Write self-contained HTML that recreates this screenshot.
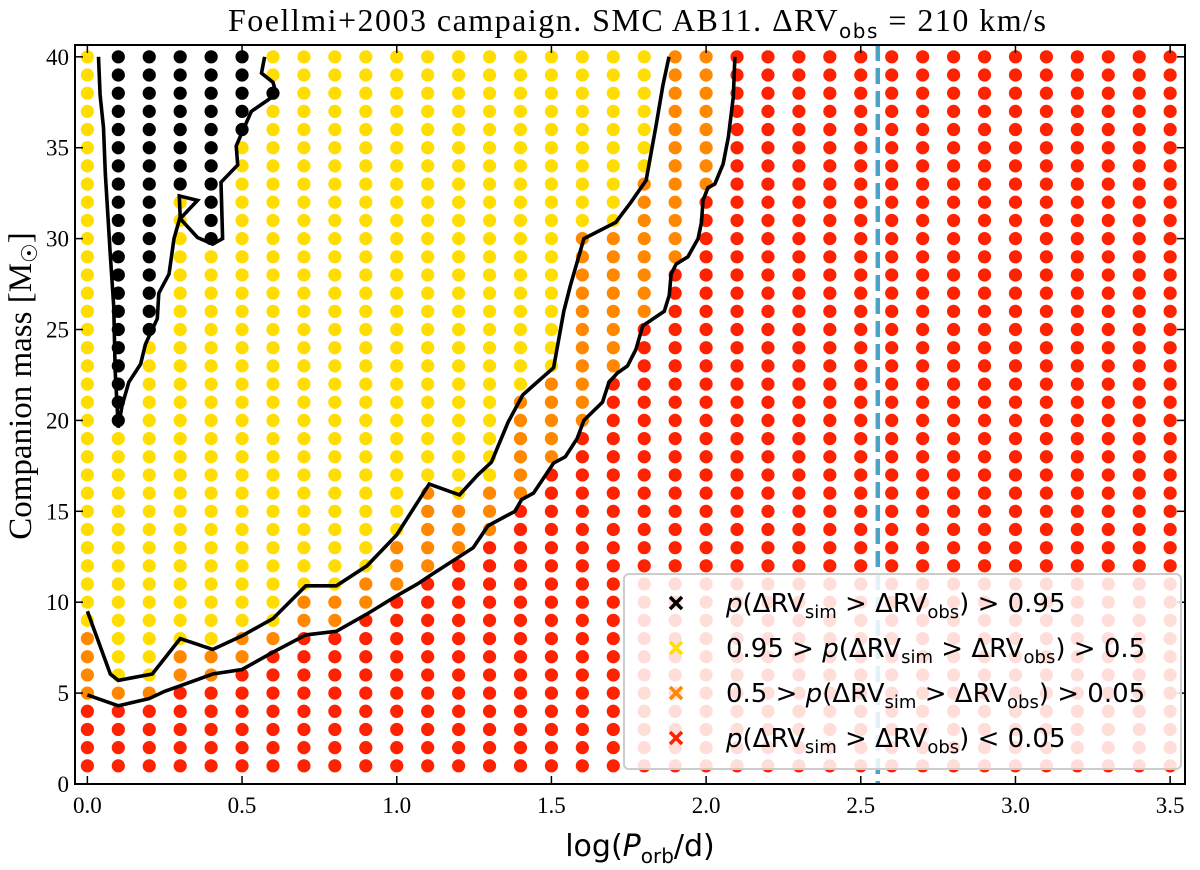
<!DOCTYPE html>
<html><head><meta charset="utf-8"><style>
html,body{margin:0;padding:0;background:#fff;}
svg{display:block;}
.serif{font-family:"Liberation Serif","DejaVu Serif",serif;}
.sans{font-family:"DejaVu Sans","Liberation Sans",sans-serif;}
</style></head><body>
<svg id="chart" width="1200" height="870" viewBox="0 0 1200 870" xmlns="http://www.w3.org/2000/svg">
<text class="serif" x="228" y="31" font-size="32" textLength="818" lengthAdjust="spacing">Foellmi+2003 campaign. SMC AB11. ΔRV<tspan class="sans" font-size="20" dy="7">obs</tspan><tspan dy="-7"> = 210 km/s</tspan></text>
<text class="serif" x="0" y="0" font-size="33" text-anchor="middle" transform="translate(31,386) rotate(-90)">Companion mass [M<tspan font-size="22" dy="6">☉</tspan><tspan dy="-6">]</tspan></text>
<text class="sans" x="640" y="856" font-size="30" text-anchor="middle">log(<tspan font-style="italic">P</tspan><tspan font-size="20" dy="7">orb</tspan><tspan dy="-7">/d)</tspan></text>
<g id="dots"></g>
<g id="lines"></g>
<g id="axes"></g>
<g id="legend"></g>
</svg>
<script>
const xCols = [0.0,0.1,0.2,0.3,0.4,0.5,0.6,0.7,0.8,0.9,1.0,1.1,1.2,1.3,1.4,1.5,1.6,1.7,1.8,1.9,2.0,2.1,2.2,2.3,2.4,2.5,2.6,2.7,2.8,2.9,3.0,3.1,3.2,3.3,3.4,3.5];
const massRows = [1,2,3,4,5,6,7,8,9,10,11,12,13,14,15,16,17,18,19,20,21,22,23,24,25,26,27,28,29,30,31,32,33,34,35,36,37,38,39,40];
const redTop = [4,4,4,5,5,6,7,8,8,9,10,11,12,13,15,17,19,22,25,28,32,40,40,40,40,40,40,40,40,40,40,40,40,40,40,40];
const orangeTop = [8,5,5,7,7,8,8,10,10,11,13,16,15,16,21,22,30,30,33,40,40,40,40,40,40,40,40,40,40,40,40,40,40,40,40,40];
const blackLo = [99,20,25,33,30,36,38,99,99,99,99,99,99,99,99,99,99,99,99,99,99,99,99,99,99,99,99,99,99,99,99,99,99,99,99,99];
const blackHi = [0,40,40,40,40,40,38,0,0,0,0,0,0,0,0,0,0,0,0,0,0,0,0,0,0,0,0,0,0,0,0,0,0,0,0,0];
const contourBlackX = [0.036,0.041,0.052,0.058,0.074,0.085,0.09,0.10,0.112,0.134,0.172,0.188,0.226,0.231,0.264,0.28,0.30,0.297,0.356,0.30,0.356,0.405,0.437,0.432,0.486,0.481,0.53,0.611,0.60,0.563,0.573];
const contourBlackY = [40,37.9,36.1,33.6,29.1,26.3,22.7,19.6,20.8,22.1,23.1,24.2,25.6,27.0,28.05,30.0,31.2,32.35,32.1,31.1,30.06,29.7,30.0,33.1,34.05,35.1,37.0,37.95,38.6,39.1,40];
const contourUpperX = [0.0,0.074,0.10,0.21,0.30,0.405,0.50,0.60,0.706,0.805,0.904,1.0,1.105,1.203,1.262,1.306,1.36,1.407,1.447,1.507,1.54,1.561,1.605,1.708,1.757,1.806,1.838,1.86,1.88];
const contourUpperY = [9.5,6.05,5.7,6.05,8.0,7.4,8.15,9.1,10.9,10.9,12.0,13.7,16.5,15.9,17.0,17.7,19.9,21.4,22.0,22.9,26.0,27.4,30.0,30.9,32.0,33.2,36.2,38.4,40];
const contourLowerX = [0.0,0.1,0.2,0.25,0.30,0.405,0.50,0.60,0.706,0.805,0.904,1.0,1.067,1.111,1.247,1.295,1.382,1.404,1.442,1.507,1.545,1.583,1.605,1.665,1.686,1.713,1.746,1.773,1.795,1.865,1.881,1.887,1.903,1.941,1.974,1.985,1.99,2.006,2.028,2.055,2.072,2.088,2.093];
const contourLowerY = [4.9,4.3,4.7,5.1,5.4,6.05,6.3,7.25,8.2,8.4,9.35,10.35,11.0,11.5,13.0,14.2,15.0,15.65,16.0,17.65,18.0,19.0,20.0,21.0,22.1,22.6,23.0,23.9,25.2,26.0,26.9,28.05,28.6,29.0,30.0,30.9,32.1,32.8,33.0,34.1,35.6,37.8,40];
const xTicks = [0.0,0.5,1.0,1.5,2.0,2.5,3.0,3.5];
const xTickLabels = ["0.0","0.5","1.0","1.5","2.0","2.5","3.0","3.5"];
const yTicks = [0,5,10,15,20,25,30,35,40];
const yTickLabels = ["0","5","10","15","20","25","30","35","40"];
const obsLineX = 2.555;
const legendLabels = ["black","yellow","orange","red"];

const NS="http://www.w3.org/2000/svg";
const L=75,R=1185,T=45,B=784;
const X0=-0.04,X1=3.548,Y0=0,Y1=40.65;
function sx(v){return L+(v-X0)/(X1-X0)*(R-L);}
function sy(v){return B-(v-Y0)/(Y1-Y0)*(B-T);}
function mk(tag,attrs,parent){const e=document.createElementNS(NS,tag);for(const k in attrs)e.setAttribute(k,attrs[k]);parent.appendChild(e);return e;}
const COL={black:"#000000",yellow:"#ffdd00",orange:"#ff8800",red:"#ff2200"};

const dots=document.getElementById('dots');
xCols.forEach((x,i)=>{
  massRows.forEach(m=>{
    let c;
    if(m>=blackLo[i]&&m<=blackHi[i])c=COL.black;
    else if(m<=redTop[i])c=COL.red;
    else if(m<=orangeTop[i])c=COL.orange;
    else c=COL.yellow;
    const d=mk('circle',{cx:sx(x),cy:sy(m),r:6.6,fill:c},dots);
    
    
  });
});

const lines=document.getElementById('lines');
const ol=mk('line',{x1:sx(obsLineX),x2:sx(obsLineX),y1:T,y2:B,stroke:"#4ba3c8","stroke-width":4.5,"stroke-dasharray":"16,7"},lines);


function poly(xs,ys,name){
  const pts=xs.map((x,i)=>sx(x).toFixed(1)+","+sy(ys[i]).toFixed(1)).join(" ");
  const p=mk('polyline',{points:pts,fill:"none",stroke:"#000","stroke-width":3.6,"stroke-linejoin":"miter"},lines);
  
  
}
poly(contourBlackX,contourBlackY,'contour-095');
poly(contourUpperX,contourUpperY,'contour-05');
poly(contourLowerX,contourLowerY,'contour-005');

const axes=document.getElementById('axes');
const fr=mk('rect',{x:L,y:T,width:R-L,height:B-T,fill:"none",stroke:"#000","stroke-width":2},axes);


xTicks.forEach((v,i)=>{
  const x=sx(v);
  mk('line',{x1:x,x2:x,y1:B,y2:B-8,stroke:"#000","stroke-width":1.5},axes);
  mk('line',{x1:x,x2:x,y1:T,y2:T+8,stroke:"#000","stroke-width":1.5},axes);
  const t=mk('text',{x:x,y:B+29,"font-size":23,"text-anchor":"middle",class:"serif"},axes);
  t.textContent=xTickLabels[i];
  
  
});
yTicks.forEach((v,i)=>{
  const y=sy(v);
  mk('line',{x1:L,x2:L+8,y1:y,y2:y,stroke:"#000","stroke-width":1.5},axes);
  mk('line',{x1:R,x2:R-8,y1:y,y2:y,stroke:"#000","stroke-width":1.5},axes);
  const t=mk('text',{x:L-6,y:y+8,"font-size":23,"text-anchor":"end",class:"serif"},axes);
  t.textContent=yTickLabels[i];
  
  
});

const lg=document.getElementById('legend');
const box=mk('rect',{x:624,y:574,width:557,height:195,rx:5,fill:"rgba(255,255,255,0.85)",stroke:"#cccccc","stroke-width":2},lg);


const rowsY=[603,648,693,738];
const txt=[
 '<tspan font-style="italic">p</tspan>(ΔRV<tspan font-size="18" dy="6">sim</tspan><tspan dy="-6"> &gt; ΔRV</tspan><tspan font-size="18" dy="6">obs</tspan><tspan dy="-6">) &gt; 0.95</tspan>',
 '0.95 &gt; <tspan font-style="italic">p</tspan>(ΔRV<tspan font-size="18" dy="6">sim</tspan><tspan dy="-6"> &gt; ΔRV</tspan><tspan font-size="18" dy="6">obs</tspan><tspan dy="-6">) &gt; 0.5</tspan>',
 '0.5 &gt; <tspan font-style="italic">p</tspan>(ΔRV<tspan font-size="18" dy="6">sim</tspan><tspan dy="-6"> &gt; ΔRV</tspan><tspan font-size="18" dy="6">obs</tspan><tspan dy="-6">) &gt; 0.05</tspan>',
 '<tspan font-style="italic">p</tspan>(ΔRV<tspan font-size="18" dy="6">sim</tspan><tspan dy="-6"> &gt; ΔRV</tspan><tspan font-size="18" dy="6">obs</tspan><tspan dy="-6">) &lt; 0.05</tspan>'
];
legendLabels.forEach((k,i)=>{
  const y=rowsY[i];
  const g=mk('g',{},lg);
  
  
  mk('path',{d:`M670 ${y-6} l12 12 M682 ${y-6} l-12 12`,stroke:COL[k],"stroke-width":3.5},g);
  const t=mk('text',{x:726,y:y+9,"font-size":26,class:"sans"},g);
  t.innerHTML=txt[i];
});
</script>
</body></html>
